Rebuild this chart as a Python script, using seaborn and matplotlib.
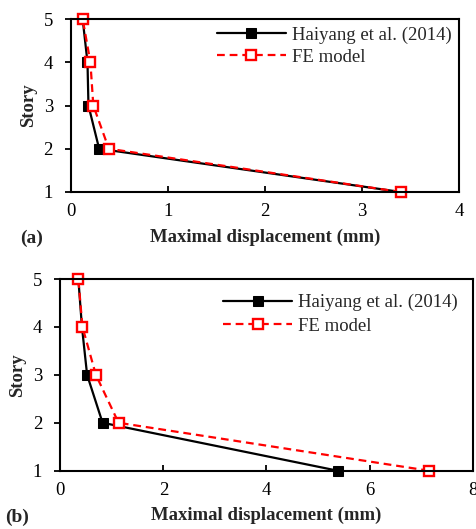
import matplotlib
matplotlib.use("Agg")
import matplotlib.pyplot as plt
import seaborn as sns
import numpy as np

story = [1, 2, 3, 4, 5]
a_haiyang = [3.40, 0.29, 0.18, 0.17, 0.12]
a_fe = [3.40, 0.39, 0.23, 0.20, 0.12]
b_haiyang = [5.38, 0.82, 0.52, 0.42, 0.35]
b_fe = [7.15, 1.13, 0.69, 0.43, 0.35]
label_h = "Haiyang et al. (2014)"
label_fe = "FE model"

sns.set_theme(style="white")
plt.rcParams['font.family'] = ['Liberation Serif', 'DejaVu Serif']

FS = 13.5

fig = plt.figure(figsize=(4.77, 5.29), dpi=100)
ax1 = fig.add_axes([71 / 477, 1 - 192 / 529, 388 / 477, 173 / 529])
ax2 = fig.add_axes([60.3 / 477, 1 - 470.7 / 529, 412.4 / 477, 191.7 / 529])

def draw(ax, h, fe, xmax, xticks, ylab_x, xlab_y, bap, lsp):
    sns.lineplot(x=h, y=story, orient="y", ax=ax, color="black", lw=1.6,
                 marker="s", markersize=7.5, markerfacecolor="black",
                 markeredgecolor="black", label=label_h, clip_on=False)
    sns.lineplot(x=fe, y=story, orient="y", ax=ax, color="#ff0000", lw=1.6,
                 linestyle=(0, (3.5, 2.2)), marker="s", markersize=7.5,
                 markerfacecolor="white", markeredgecolor="#ff0000",
                 markeredgewidth=1.7, label=label_fe, clip_on=False)
    ax.set_xlim(0, xmax)
    ax.set_ylim(1, 5)
    ax.set_xticks(xticks)
    ax.set_yticks(story)
    ax.tick_params(axis="x", direction="in", length=4, width=1.3,
                   labelsize=FS, colors="black", pad=8, bottom=True)
    ax.tick_params(axis="y", direction="out", length=4, width=1.3,
                   labelsize=FS, colors="black", pad=9, left=True)
    for s in ax.spines.values():
        s.set_color("black")
        s.set_linewidth(1.5)
    ax.set_xlabel("Maximal displacement (mm)", fontsize=FS, fontweight="bold")
    ax.set_ylabel("Story", fontsize=FS, fontweight="bold")
    ax.yaxis.set_label_coords(ylab_x, 0.5)
    ax.xaxis.set_label_coords(0.5, xlab_y)
    ax.legend(loc="upper right", frameon=False, fontsize=FS,
              handlelength=3.7, labelspacing=lsp, handletextpad=0.3,
              borderaxespad=bap)

draw(ax1, a_haiyang, a_fe, 4, [0, 1, 2, 3, 4], -0.088, -0.21, 0.0, 0.25)
draw(ax2, b_haiyang, b_fe, 8, [0, 2, 4, 6, 8], -0.083, -0.19, 0.4, 0.35)

fig.text(20 / 477, 1 - 238 / 529, "(a)", fontsize=FS + 0.5, fontweight="bold", va="center")
fig.text(5 / 477, 1 - 517 / 529, "(b)", fontsize=FS + 0.5, fontweight="bold", va="center")

fig.savefig("out.png", dpi=100)
